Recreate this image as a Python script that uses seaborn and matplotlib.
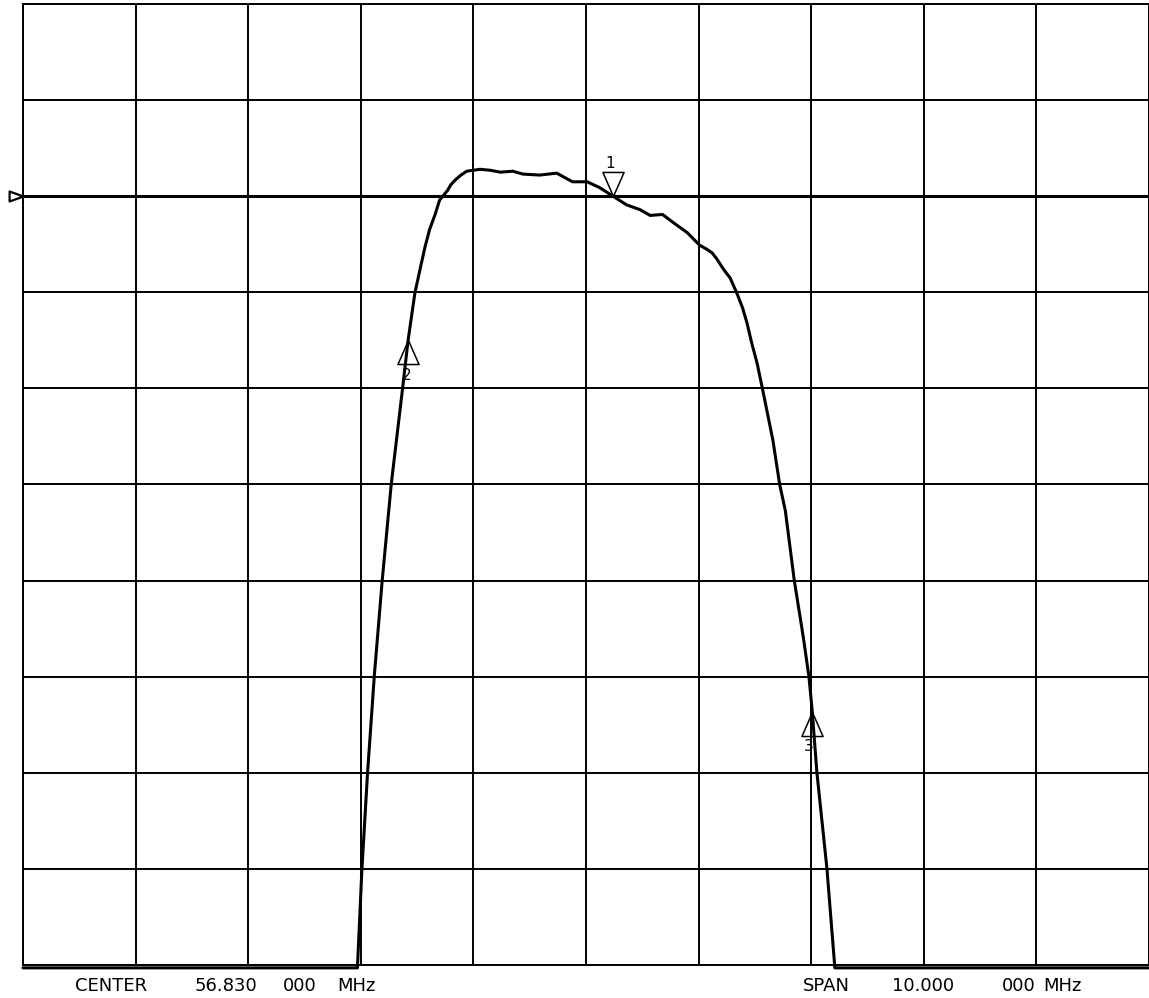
import matplotlib
matplotlib.use("Agg")
import matplotlib.pyplot as plt
from matplotlib.path import Path
import numpy as np
import pandas as pd
import seaborn as sns

sns.set_style("white")
plt.rcParams['font.family'] = ['DejaVu Sans']

# sweep settings (MHz) and display scale
center_mhz = 56.83
span_mhz = 10.0
ref_level = 0.0
scale_per_div = 10.0
ref_div = 8  # reference line position, divisions from bottom

# trace (frequency in MHz, level in dB)
freq = [51.83, 54.80, 54.84, 54.89, 54.95, 55.02, 55.10, 55.20, 55.25, 55.31,
        55.36, 55.40, 55.44, 55.49, 55.53, 55.60, 55.63, 55.67, 55.72, 55.77,
        55.89, 55.98, 56.07, 56.18, 56.27, 56.42, 56.57, 56.71, 56.84, 56.95,
        57.07, 57.19, 57.31, 57.40, 57.51, 57.60, 57.73, 57.78, 57.84, 57.90,
        57.95, 57.99, 58.04, 58.07, 58.11, 58.17, 58.22, 58.26, 58.30, 58.35,
        58.40, 58.49, 58.55, 58.60, 58.68, 58.76, 58.81, 58.84, 58.88, 58.97,
        59.04, 61.83]
level = [-80.3, -80.3, -70.0, -60.0, -49.9, -40.0, -30.0, -20.1, -15.0, -10.1,
         -7.4, -5.3, -3.5, -1.9, -0.4, 0.6, 1.2, 1.7, 2.2, 2.6,
         2.8, 2.7, 2.5, 2.6, 2.3, 2.2, 2.4, 1.5, 1.5, 0.9,
         0.0, -0.9, -1.4, -2.0, -1.9, -2.7, -3.8, -4.4, -5.1, -5.5,
         -5.9, -6.5, -7.4, -7.9, -8.5, -10.1, -11.6, -13.2, -15.2, -17.4,
         -20.2, -25.4, -30.0, -32.7, -40.0, -45.9, -50.0, -53.7, -59.9, -70.0,
         -80.3, -80.3]

# markers: number, frequency, level
marker_ids = ["1", "2", "3"]
marker_freq = [57.07, 55.25, 58.84]
marker_level = [0.0, -15.0, -53.7]

df = pd.DataFrame({"freq": freq, "level": level})

W, H = 1149, 998
fig = plt.figure(figsize=(W / 100, H / 100), dpi=100)
ax = fig.add_axes([23 / W, 33 / H, 1126 / W, 961 / H])

fmin = center_mhz - span_mhz / 2
fmax = center_mhz + span_mhz / 2
ymin = ref_level - ref_div * scale_per_div
ymax = ymin + 10 * scale_per_div

ax.set_xlim(fmin, fmax)
ax.set_ylim(ymin, ymax)
ax.set_xticks(np.linspace(fmin, fmax, 11))
ax.set_yticks(np.linspace(ymin, ymax, 11))
ax.tick_params(length=0, labelbottom=False, labelleft=False)
ax.grid(True, color="black", linewidth=1.4)
for s in ax.spines.values():
    s.set_color("black")
    s.set_linewidth(1.4)
ax.spines["right"].set_visible(False)

# reference line a bit heavier
ax.axhline(ref_level, color="black", linewidth=2.2, zorder=2)

sns.lineplot(data=df, x="freq", y="level", ax=ax, color="black",
             linewidth=2.2, sort=False, estimator=None)
for ln in ax.lines:
    ln.set_clip_on(False)
    ln.set_solid_joinstyle("round")
ax.set_xlabel("")
ax.set_ylabel("")

# marker triangles with their tip on the trace
up_tri = Path([(0, 0), (-0.44, -1), (0.44, -1), (0, 0)],
              [Path.MOVETO, Path.LINETO, Path.LINETO, Path.CLOSEPOLY])
down_tri = Path([(0, 0), (-0.44, 1), (0.44, 1), (0, 0)],
                [Path.MOVETO, Path.LINETO, Path.LINETO, Path.CLOSEPOLY])
label_offsets = {"1": (-3, 33), "2": (-1, -35), "3": (-4, -34)}
for mid, mf, ml in zip(marker_ids, marker_freq, marker_level):
    shape = down_tri if mid == "1" else up_tri
    ax.plot([mf], [ml], marker=shape, markersize=34.6, markerfacecolor="none",
            markeredgecolor="black", markeredgewidth=1.1, linestyle="none",
            clip_on=False, zorder=4)
    dx, dy = label_offsets[mid]
    ax.annotate(mid, (mf, ml), xytext=(dx, dy), textcoords="offset pixels",
                ha="center", va="center", fontsize=11, color="black")

# reference level pointer on the left edge
ref_tri = Path([(0, 0), (-1, 0.36), (-1, -0.36), (0, 0)],
               [Path.MOVETO, Path.LINETO, Path.LINETO, Path.CLOSEPOLY])
ax.plot([fmin], [ref_level], marker=ref_tri, markersize=20,
        markerfacecolor="none", markeredgecolor="black", markeredgewidth=1.6,
        linestyle="none", clip_on=False, zorder=5)

# annotation along the bottom
ty = 1 - 986 / H
words = [("CENTER", 75), ("56.830", 195), ("000", 283), ("MHz", 337),
         ("SPAN", 803), ("10.000", 892), ("000", 1002), ("MHz", 1043)]
for w, x in words:
    fig.text(x / W, ty, w, ha="left", va="center", fontsize=13, color="black")

fig.savefig("out.png", dpi=100, facecolor="white")
